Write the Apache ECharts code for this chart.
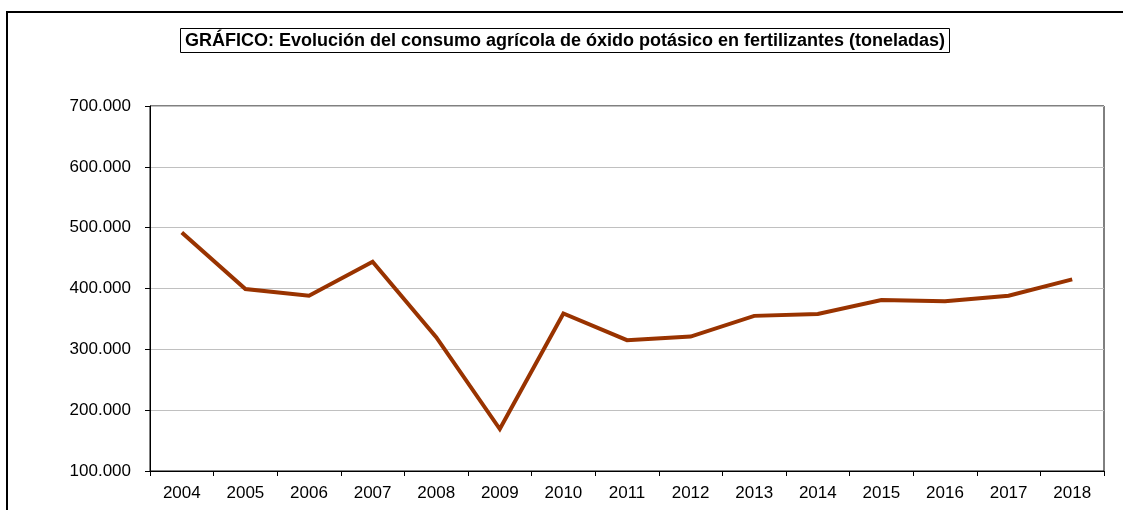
<!DOCTYPE html>
<html>
<head>
<meta charset="utf-8">
<script src="https://cdn.jsdelivr.net/npm/echarts@6/dist/echarts.min.js"></script>
<style>
  html, body { margin: 0; padding: 0; background: #fff; }
  #chart { width: 1123px; height: 510px; }
</style>
</head>
<body>
<div id="chart"></div>
<script>
// años y consumo (toneladas)
var years = ['2004', '2005', '2006', '2007', '2008', '2009', '2010', '2011', '2012', '2013', '2014', '2015', '2016', '2017', '2018'];
var consumo = [492000, 399000, 388000, 444000, 320000, 169000, 359000, 315000, 321000, 355000, 358000, 381000, 379000, 388000, 415000];
var titulo = 'GRÁFICO: Evolución del consumo agrícola de óxido potásico en fertilizantes (toneladas)';

var myChart = echarts.init(document.getElementById('chart'));

// formato con punto de miles
function miles(v) {
  return String(v).replace(/\B(?=(\d{3})+(?!\d))/g, '.');
}

var option = {
  animation: false,
  backgroundColor: '#fff',
  textStyle: { fontFamily: 'Liberation Sans, Arial, sans-serif' },
  title: {
    text: titulo,
    left: 180,
    top: 28,
    padding: [4, 5, 3, 5],
    borderColor: '#000',
    borderWidth: 1,
    textStyle: { fontSize: 18, fontWeight: 'bold', color: '#000', fontFamily: 'Liberation Sans, Arial, sans-serif' }
  },
  graphic: [
    {
      type: 'rect',
      shape: { x: 7, y: 12, width: 1140, height: 540 },
      style: { fill: 'none', stroke: '#000', lineWidth: 2 },
      silent: true
    }
  ],
  grid: {
    left: 150,
    top: 106,
    right: 19,
    bottom: 39,
    show: true,
    borderColor: '#000',
    borderWidth: 1
  },
  xAxis: {
    type: 'category',
    data: years,
    boundaryGap: true,
    axisLine: { lineStyle: { color: '#000', width: 1 } },
    axisTick: { show: true, alignWithLabel: false, length: 5, lineStyle: { color: '#000' } },
    axisLabel: { color: '#000', fontSize: 17, margin: 14 }
  },
  yAxis: {
    type: 'value',
    min: 100000,
    max: 700000,
    interval: 100000,
    axisLine: { show: true, lineStyle: { color: '#000', width: 1 } },
    axisTick: { show: true, length: 5, lineStyle: { color: '#000' } },
    axisLabel: { color: '#000', fontSize: 17, margin: 19, formatter: miles },
    splitLine: { lineStyle: { color: '#c0c0c0', width: 1 } }
  },
  series: [
    {
      type: 'line',
      data: consumo,
      symbol: 'none',
      lineStyle: { color: '#993300', width: 4, join: 'miter' }
    }
  ]
};

myChart.setOption(option);
</script>
</body>
</html>
